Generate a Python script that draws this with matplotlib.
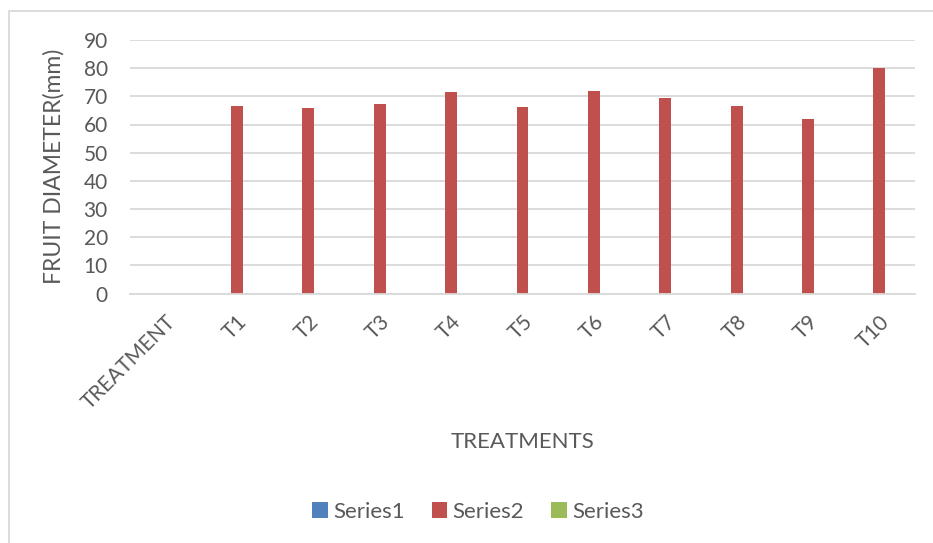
import matplotlib
matplotlib.use("Agg")
import matplotlib.pyplot as plt
import numpy as np

# Fruit diameter per treatment
categories = ["TREATMENT", "T1", "T2", "T3", "T4", "T5", "T6", "T7", "T8", "T9", "T10"]
series1 = [0, 0, 0, 0, 0, 0, 0, 0, 0, 0, 0]
series2 = [0, 66.5, 65.8, 67.2, 71.5, 66.2, 71.9, 69.3, 66.5, 61.9, 80.2]
series3 = [0, 0, 0, 0, 0, 0, 0, 0, 0, 0, 0]
y_ticks = [0, 10, 20, 30, 40, 50, 60, 70, 80, 90]

plt.rcParams["font.family"] = ["Lato", "DejaVu Sans"]
text_color = "#595959"
grid_color = "#d9d9d9"

fig = plt.figure(figsize=(9.33, 5.43), dpi=100)
ax = fig.add_axes([130 / 933, 1 - 293.5 / 543, 785 / 933, 253.5 / 543])

x = np.arange(len(categories))
w = 0.168
ax.bar(x - w, series1, w, color="#4f81bd", label="Series1", linewidth=0)
ax.bar(x, series2, w, color="#c0504d", label="Series2", linewidth=0)
ax.bar(x + w, series3, w, color="#9bbb59", label="Series3", linewidth=0)

ax.set_xlim(-0.5, len(categories) - 0.5)
ax.set_ylim(0, 90)
ax.set_yticks(y_ticks)
ax.yaxis.grid(True, color=grid_color, linewidth=1.3)
ax.set_axisbelow(True)
for side in ["top", "right", "left"]:
    ax.spines[side].set_visible(False)
ax.spines["bottom"].set_color(grid_color)
ax.spines["bottom"].set_linewidth(1.3)
ax.tick_params(axis="both", length=0, colors=text_color, labelsize=15)
ax.tick_params(axis="y", pad=16)

ax.set_xticks(x)
ax.set_xticklabels(categories, rotation=45, ha="right", rotation_mode="anchor")
ax.tick_params(axis="x", pad=13)

ax.set_ylabel("FRUIT DIAMETER(mm)", color=text_color, fontsize=16.5, labelpad=14)
ax.set_xlabel("TREATMENTS", color=text_color, fontsize=16, labelpad=14)

leg = fig.legend(loc="center", bbox_to_anchor=(478 / 933, 1 - 512 / 543), ncol=3,
                 frameon=False, fontsize=16, handlelength=0.7, handleheight=0.7,
                 handletextpad=0.25, columnspacing=1.2)
for t in leg.get_texts():
    t.set_color(text_color)

# outer chart border
fig.patches.append(plt.Rectangle((9 / 933, -0.1), 1.0, 1 - 11 / 543 + 0.1,
                                 transform=fig.transFigure, fill=False,
                                 edgecolor=grid_color, linewidth=1.3))

fig.savefig("out.png", dpi=100)
